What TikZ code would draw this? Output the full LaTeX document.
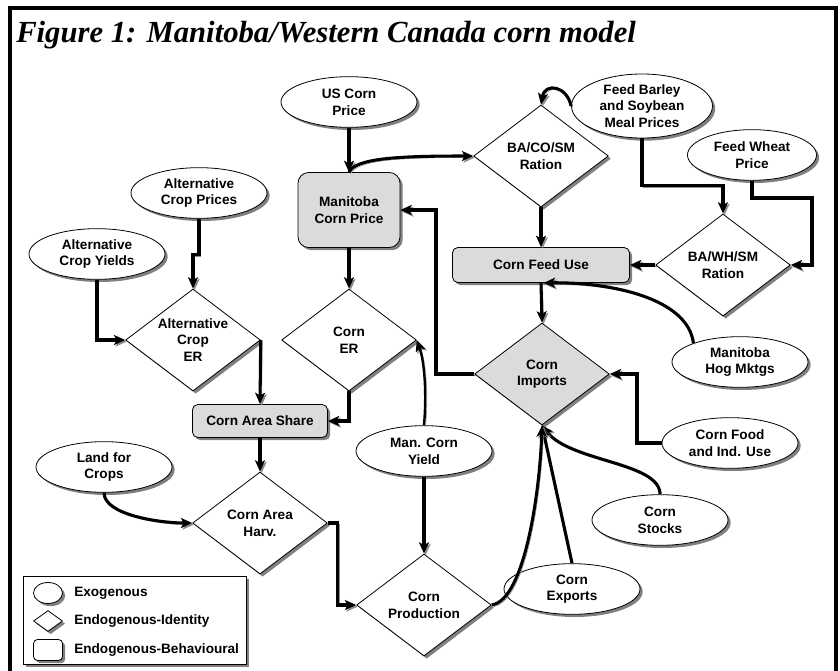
\documentclass[tikz,border=0pt]{standalone}
\usepackage{fontspec}
\setmainfont{Liberation Sans}
\newfontfamily\titlefont{Liberation Serif}
\usetikzlibrary{shapes.geometric,shadows,arrows.meta}

\begin{document}
\begin{tikzpicture}[x=0.75pt,y=-0.75pt,
  every node/.style={font=\fontsize{10.2}{12.5}\selectfont\bfseries, align=center, inner sep=0pt},
  castshadow/.style={drop shadow={shadow xshift=2pt,shadow yshift=-2pt,fill=black!50,opacity=1}},
  exo/.style={ellipse, draw, line width=0.6pt, fill=white, castshadow, minimum width=102pt, minimum height=38pt},
  ident/.style={diamond, aspect=1.33, draw, line width=0.6pt, fill=white, castshadow, minimum width=101pt, minimum height=76.5pt},
  behav/.style={rectangle, rounded corners=4pt, draw, line width=0.6pt, fill=black!14, castshadow},
  link/.style={line width=2.3pt, -{Stealth[length=8.5pt,width=7.5pt,inset=2pt]},
    preaction={draw=black!45, transform canvas={xshift=1.2pt,yshift=-1.2pt}}}]
\useasboundingbox (0,0) rectangle (840,671);

\draw[line width=3pt] (9.5,671) -- (9.5,8) -- (836,8) -- (836,671);
\node[anchor=base west, font=\titlefont\bfseries\itshape\fontsize{23}{26}\selectfont] (title) at (16,42) {Figure 1: Manitoba/Western Canada corn model};

\node[exo] (usp) at (349,102) {US Corn\\Price};
\node[exo] (acp) at (199,193) {Alternative\\Crop Prices};
\node[exo] (acy) at (97,254) {Alternative\\Crop Yields};
\node[exo, minimum width=105.75pt, minimum height=48pt] (fbs) at (642,106) {Feed Barley\\and Soybean\\Meal Prices};
\node[exo, minimum width=96.75pt] (fwp) at (752,155) {Feed Wheat\\Price};
\node[exo] (hog) at (740,362) {Manitoba\\Hog Mktgs};
\node[exo] (cfi) at (730,443) {Corn Food\\and Ind. Use};
\node[exo] (cst) at (660,520) {Corn\\Stocks};
\node[exo] (cex) at (572,589) {Corn\\Exports};
\node[exo] (mcy) at (424,451) {Man. Corn\\Yield};
\node[exo] (lfc) at (104,467) {Land for\\Crops};

\node[behav, rounded corners=8pt, minimum width=76.5pt, minimum height=56.25pt] (mcp) at (349,210) {Manitoba\\Corn Price};
\node[behav, minimum width=132.75pt, minimum height=26.25pt] (cfu) at (541,265) {Corn Feed Use};
\node[behav, minimum width=101.25pt, minimum height=24.75pt] (cas) at (260,421) {Corn Area Share};

\node[ident] (baco) at (541,156) {BA/CO/SM\\Ration};
\node[ident] (bawh) at (723,265) {BA/WH/SM\\Ration};
\node[ident] (acer) at (193,340) {Alternative\\Crop\\ER};
\node[ident] (cer) at (349,340) {Corn\\ER};
\node[ident, fill=black!14] (cim) at (542,374) {Corn\\Imports};
\node[ident] (cah) at (260,523) {Corn Area\\Harv.};
\node[ident] (cpr) at (424,605) {Corn\\Production};

\draw[link] (usp.south) -- (mcp.north);
\draw[link] (mcp.north) .. controls (356,158) and (400,156) .. (baco.west);
\draw[link] (fbs.west) .. controls (567,86) and (545,82) .. (baco.north);
\draw[link] (fbs.south) -- ++(0,47) -| (bawh.north);
\draw[link] (fwp.south) -- (752,198) -- (812,198) |- (bawh.east);
\draw[link] (bawh.west) -- (cfu.east);
\draw[link] (baco.south) -- (cfu.north);
\draw[link] (cfu.south) -- (cim.north);
\draw[link] (hog.158) .. controls (688,298) and (610,282) .. ([xshift=2pt]cfu.south);
\draw[link] (cim.west) -- (436,374) |- (mcp.east);
\draw[link] (cfi.west) -- (637,443) |- (cim.east);
\draw[link] (cst.north) .. controls (660,462) and (570,462) .. (cim.south);
\draw[link] (cex.north) -- (cim.south);
\draw[link] (cpr.east) .. controls (525,600) and (540,490) .. (cim.south);
\draw[link, line width=1.8pt] (mcy.north) .. controls (427,390) and (424,360) .. (cer.east);
\draw[link] (mcy.south) -- (cpr.north);
\draw[link] (mcp.south) -- (cer.north);
\draw[link] (cer.south) |- (cas.east);
\draw[link] (acp.south) -- ++(0,36) -| (acer.north);
\draw[link] (acy.south) |- (acer.west);
\draw[link] (acer.east) -- (cas.north);
\draw[link] (cas.south) -- (cah.north);
\draw[link] (lfc.south) .. controls (104,515) and (160,523) .. (cah.west);
\draw[link] (cah.east) -- ++(10,0) |- (cpr.west);

\draw[fill=white, line width=0.6pt, castshadow] (23,576) rectangle (246,664);
\node[exo, minimum width=21.75pt, minimum height=15.75pt] (keyexo) at (48,593) {};
\node[ident, aspect=1.4, minimum width=21.75pt, minimum height=15.75pt] (keyident) at (48,621) {};
\node[behav, fill=white, rounded corners=3pt, minimum width=21.75pt, minimum height=15.75pt] (keybehav) at (48,650) {};
\node[anchor=west] (exolab) at (74,593) {Exogenous};
\node[anchor=west] (identlab) at (74,621) {Endogenous-Identity};
\node[anchor=west] (behavlab) at (74,650) {Endogenous-Behavioural};
\end{tikzpicture}
\end{document}
